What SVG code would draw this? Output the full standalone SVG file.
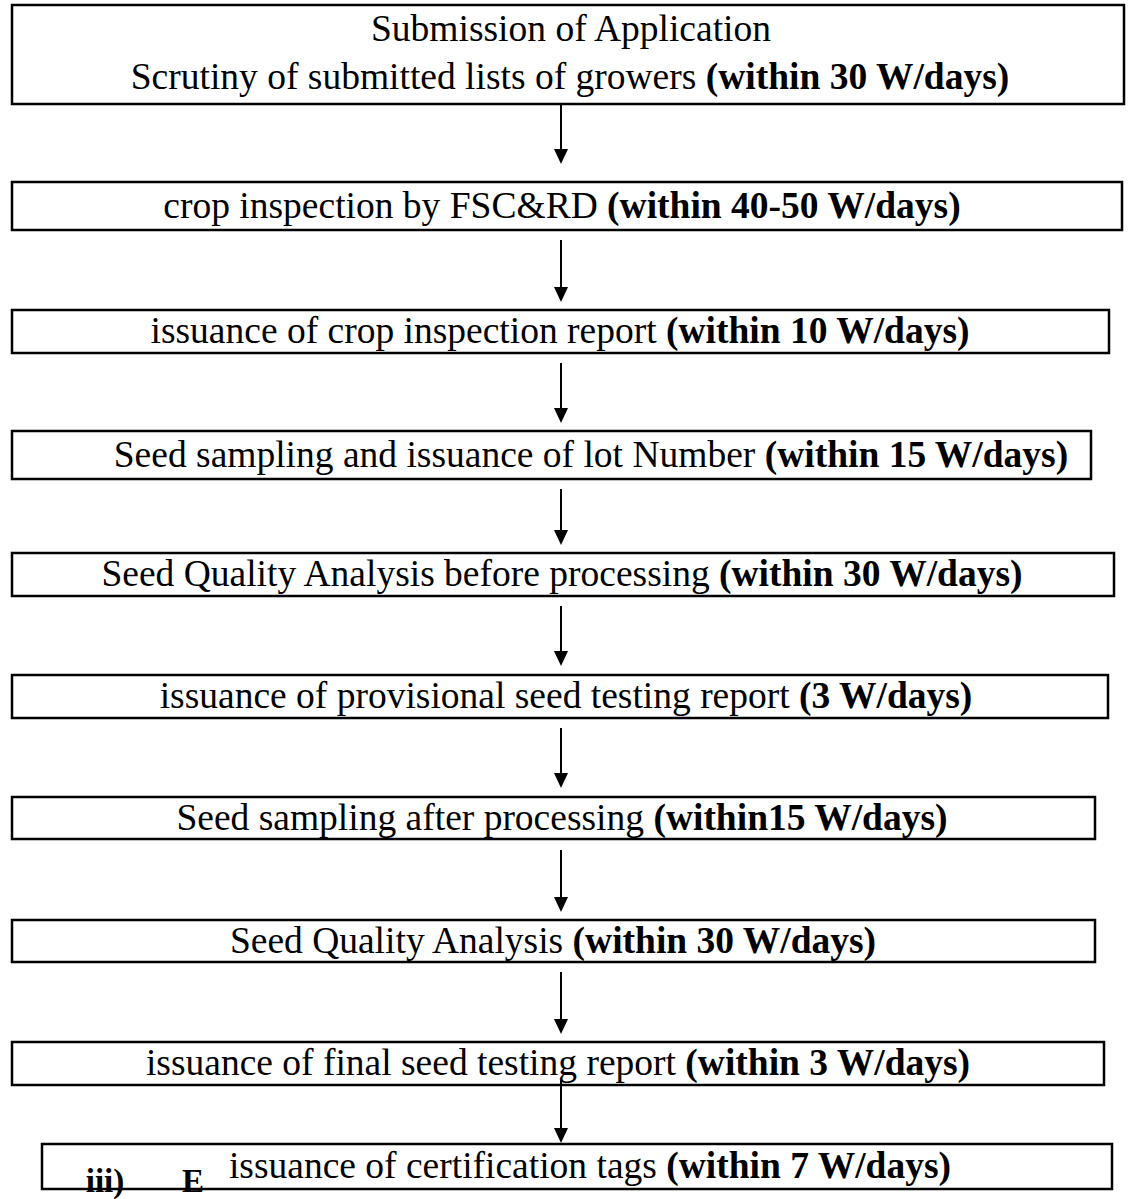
<svg xmlns="http://www.w3.org/2000/svg" width="1134" height="1199" viewBox="0 0 1134 1199">
<style>
.box{fill:#fff;stroke:#000;stroke-width:2.5}
.t{font-family:"Liberation Serif","Times New Roman",serif;font-size:37.5px;fill:#000;text-anchor:middle}
.b{font-weight:bold}
.c{stroke:#000;stroke-width:2;fill:none}
</style>
<defs>
<marker id="ah" markerUnits="userSpaceOnUse" markerWidth="15" markerHeight="14" viewBox="0 0 15 14" refX="3" refY="7" orient="auto">
<path d="M0,0 L15,7 L0,14 Z" fill="#000"/>
</marker>
</defs>
<rect width="1134" height="1199" fill="#fff"/>
<g id="n1"><rect class="box" x="12" y="5" width="1112" height="99"/>
<text class="t" x="571" y="41">Submission of Application</text>
<text class="t" x="570" y="89">Scrutiny of submitted lists of growers <tspan class="b">(within 30 W/days)</tspan></text></g>
<g id="n2"><rect class="box" x="12" y="182" width="1110" height="48"/>
<text class="t" x="562" y="218">crop inspection by FSC&amp;RD <tspan class="b">(within 40-50 W/days)</tspan></text></g>
<g id="n3"><rect class="box" x="12" y="310" width="1097" height="43"/>
<text class="t" x="560" y="343">issuance of crop inspection report <tspan class="b">(within 10 W/days)</tspan></text></g>
<g id="n4"><rect class="box" x="12" y="431" width="1079" height="48"/>
<text class="t" x="591" y="467">Seed sampling and issuance of lot Number <tspan class="b">(within 15 W/days)</tspan></text></g>
<g id="n5"><rect class="box" x="12" y="553" width="1102" height="43"/>
<text class="t" x="562" y="586">Seed Quality Analysis before processing <tspan class="b">(within 30 W/days)</tspan></text></g>
<g id="n6"><rect class="box" x="12" y="675" width="1096" height="43"/>
<text class="t" x="566" y="708">issuance of provisional seed testing report <tspan class="b">(3 W/days)</tspan></text></g>
<g id="n7"><rect class="box" x="12" y="797" width="1083" height="42"/>
<text class="t" x="562" y="830">Seed sampling after processing <tspan class="b">(within15 W/days)</tspan></text></g>
<g id="n8"><rect class="box" x="12" y="920" width="1083" height="42"/>
<text class="t" x="553" y="953">Seed Quality Analysis <tspan class="b">(within 30 W/days)</tspan></text></g>
<g id="n9"><rect class="box" x="12" y="1042" width="1092" height="43"/>
<text class="t" x="558" y="1075">issuance of final seed testing report <tspan class="b">(within 3 W/days)</tspan></text></g>
<g id="n10"><rect class="box" x="42" y="1144" width="1070" height="45"/>
<text class="t" x="590" y="1178">issuance of certification tags <tspan class="b">(within 7 W/days)</tspan></text></g>
<g id="connectors">
<line class="c" x1="561" y1="104" x2="561" y2="152" marker-end="url(#ah)"/>
<line class="c" x1="561" y1="240" x2="561" y2="290" marker-end="url(#ah)"/>
<line class="c" x1="561" y1="363" x2="561" y2="411" marker-end="url(#ah)"/>
<line class="c" x1="561" y1="489" x2="561" y2="533" marker-end="url(#ah)"/>
<line class="c" x1="561" y1="606" x2="561" y2="654" marker-end="url(#ah)"/>
<line class="c" x1="561" y1="728" x2="561" y2="776" marker-end="url(#ah)"/>
<line class="c" x1="561" y1="850" x2="561" y2="900" marker-end="url(#ah)"/>
<line class="c" x1="561" y1="972" x2="561" y2="1022" marker-end="url(#ah)"/>
<line class="c" x1="561" y1="1080" x2="561" y2="1131" marker-end="url(#ah)"/>
</g>
<text class="t b" x="105" y="1192" style="font-size:33px">iii)</text>
<text class="t b" x="193" y="1192" style="font-size:33px">E</text>
</svg>
